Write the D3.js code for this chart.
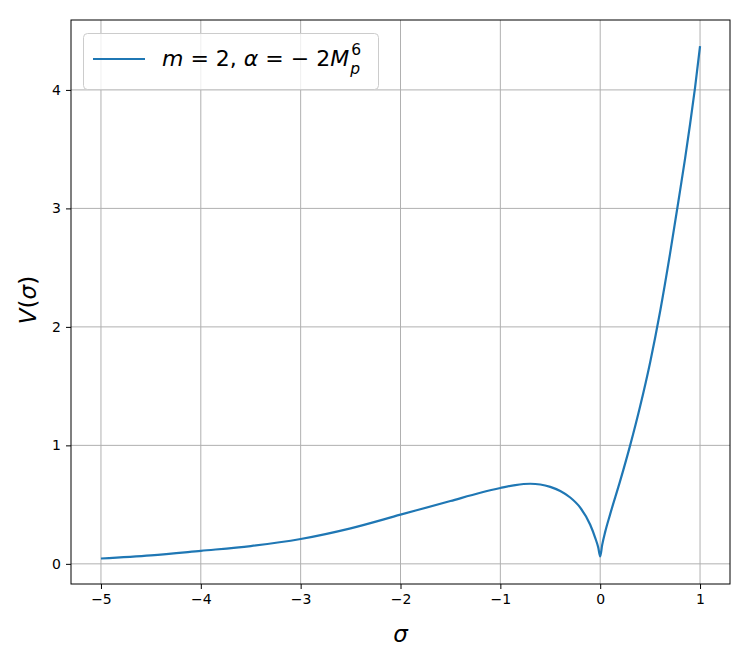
<!DOCTYPE html>
<html>
<head>
<meta charset="utf-8">
<script src="https://cdn.jsdelivr.net/npm/d3@7"></script>
<style>
  body { margin: 0; background: #fff; }
  svg { display: block; font-family: "DejaVu Sans", sans-serif; }
</style>
</head>
<body>
<svg id="chart" width="741" height="652"></svg>
<script>
// values
const sigma = [-5, -4.5, -4, -3.5, -3, -2.5, -2, -1.5, -1.2, -1, -0.85, -0.7, -0.6, -0.5, -0.4, -0.3, -0.2, -0.1, -0.05, -0.02, 0,
               0.02, 0.05, 0.1, 0.2, 0.3, 0.4, 0.5, 0.6, 0.7, 0.8, 0.85, 0.9, 0.95, 1.0];
const V = [0.045, 0.072, 0.11, 0.15, 0.21, 0.30, 0.415, 0.53, 0.60, 0.64, 0.665, 0.676, 0.67, 0.65, 0.615, 0.56, 0.475, 0.33, 0.22, 0.14, 0.063,
           0.16, 0.27, 0.42, 0.70, 1.0, 1.33, 1.70, 2.13, 2.62, 3.15, 3.42, 3.71, 4.02, 4.37];
const xTicks = [-5, -4, -3, -2, -1, 0, 1];
const yTicks = [0, 1, 2, 3, 4];

const svg = d3.select("#chart");
const margin = { top: 20, right: 11, bottom: 68, left: 71 };
const width = 741 - margin.left - margin.right;
const height = 652 - margin.top - margin.bottom;

const x = d3.scaleLinear().domain([-5.3, 1.3]).range([0, width]);
const y = d3.scaleLinear().domain([-0.17, 4.59]).range([height, 0]);

const g = svg.append("g").attr("transform", `translate(${margin.left},${margin.top})`);

// grid
g.selectAll(".vgrid").data(xTicks).enter().append("line")
  .attr("x1", d => x(d)).attr("x2", d => x(d))
  .attr("y1", 0).attr("y2", height)
  .attr("stroke", "#b0b0b0").attr("stroke-width", 1);
g.selectAll(".hgrid").data(yTicks).enter().append("line")
  .attr("y1", d => y(d)).attr("y2", d => y(d))
  .attr("x1", 0).attr("x2", width)
  .attr("stroke", "#b0b0b0").attr("stroke-width", 1);

const fmt = d => d < 0 ? "\u2212" + Math.abs(d) : String(d);

// axes
const xAxis = g.append("g")
  .attr("transform", `translate(0,${height})`)
  .call(d3.axisBottom(x).tickValues(xTicks).tickFormat(fmt).tickSize(5).tickPadding(5));
const yAxis = g.append("g")
  .call(d3.axisLeft(y).tickValues(yTicks).tickFormat(fmt).tickSize(5).tickPadding(5));
[xAxis, yAxis].forEach(a => {
  a.select(".domain").remove();
  a.selectAll("text").attr("font-size", 14).attr("font-family", "DejaVu Sans").attr("fill", "#000");
  a.selectAll("line").attr("stroke", "#000");
});

// curve
g.append("path")
  .datum(sigma.map((s, i) => [s, V[i]]))
  .attr("fill", "none")
  .attr("stroke", "#1f77b4")
  .attr("stroke-width", 2.2)
  .attr("stroke-linejoin", "round")
  .attr("d", d3.line().x(d => x(d[0])).y(d => y(d[1])).curve(d3.curveMonotoneX));

// frame
g.append("rect").attr("width", width).attr("height", height)
  .attr("fill", "none").attr("stroke", "#000").attr("stroke-width", 1);

// axis labels
svg.append("text")
  .attr("x", margin.left + x(-2)).attr("y", 642)
  .attr("text-anchor", "middle").attr("font-size", 23).attr("font-style", "italic")
  .text("σ");
const yl = svg.append("text")
  .attr("transform", `translate(36,${margin.top + height / 2 - 2}) rotate(-90)`)
  .attr("text-anchor", "middle").attr("font-size", 23);
yl.append("tspan").attr("font-style", "italic").text("V");
yl.append("tspan").text("(");
yl.append("tspan").attr("font-style", "italic").text("σ");
yl.append("tspan").text(")");

// legend
const lg = svg.append("g");
lg.append("rect")
  .attr("x", 83.5).attr("y", 33.5).attr("width", 295).attr("height", 56).attr("rx", 4)
  .attr("fill", "#fff").attr("fill-opacity", 0.8).attr("stroke", "#cccccc");
lg.append("line")
  .attr("x1", 93).attr("x2", 145).attr("y1", 59).attr("y2", 59)
  .attr("stroke", "#1f77b4").attr("stroke-width", 2.2);
const lt = lg.append("text").attr("x", 162).attr("y", 66).attr("font-size", 22);
lt.append("tspan").attr("font-style", "italic").text("m");
lt.append("tspan").text(" = 2, ");
lt.append("tspan").attr("font-style", "italic").text("α");
lt.append("tspan").text(" = \u2212 2");
lt.append("tspan").attr("font-style", "italic").text("M");
const endX = 162 + lt.node().getComputedTextLength() + 1;
lg.append("text").attr("x", endX).attr("y", 74).attr("font-size", 15.5).attr("font-style", "italic").text("p");
lg.append("text").attr("x", endX + 1).attr("y", 55).attr("font-size", 15.5).text("6");
</script>
</body>
</html>
